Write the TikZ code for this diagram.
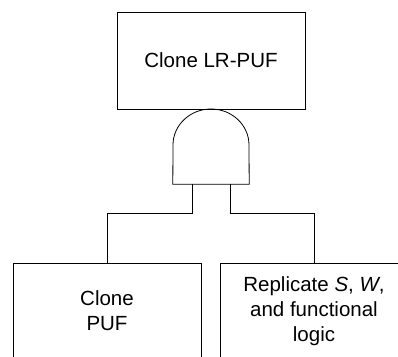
\documentclass[tikz,border=0pt]{standalone}
\usepackage{fontspec}
\setmainfont{Liberation Sans}
\begin{document}
\begin{tikzpicture}[x=1pt,y=-1pt,
  box/.style={draw, line width=0.8pt, minimum width=188pt, inner sep=0pt, align=center, font=\fontsize{20.5}{25}\selectfont},
  wire/.style={draw, line width=0.8pt}]
\useasboundingbox (0,0) rectangle (398,356);
\node[box, minimum height=97pt] (top) at (211,60.5) {Clone LR-PUF};
\node[minimum width=76pt, minimum height=75pt, inner sep=0pt] (gate) at (211,146.5) {};
\draw[wire] (gate.south west) -- (173,145) arc[start angle=180, end angle=360, x radius=38, y radius=36] -- (gate.south east) -- cycle;
\node[box, minimum height=96pt] (left) at (107,311) {Clone\\PUF};
\node[box, minimum height=96pt] (right) at (314,311) {Replicate \textit{S}, \textit{W},\\and functional\\logic};
\coordinate (g1) at ([xshift=-19pt]gate.south);
\coordinate (g2) at ([xshift=19pt]gate.south);
\draw[wire] (g1) -- ++(0,29) -| (left.north);
\draw[wire] (g2) -- ++(0,29) -| (right.north);
\end{tikzpicture}
\end{document}
